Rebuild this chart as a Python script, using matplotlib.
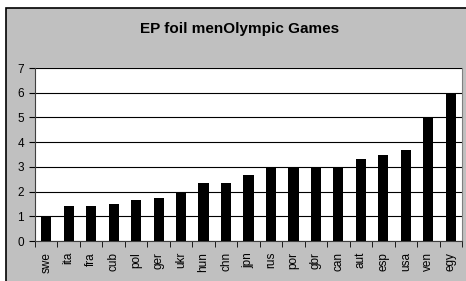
import matplotlib.pyplot as plt
import numpy as np
from matplotlib.patches import Rectangle

# countries and their values
countries = ['swe', 'ita', 'fra', 'cub', 'pol', 'ger', 'ukr', 'hun', 'chn', 'jpn',
             'rus', 'por', 'gbr', 'can', 'aut', 'esp', 'usa', 'ven', 'egy']
values = [1.0, 1.4, 1.4, 1.5, 1.67, 1.75, 2.0, 2.33, 2.33, 2.67,
          3.0, 3.0, 3.0, 3.0, 3.33, 3.5, 3.67, 5.0, 6.0]
y_ticks = [0, 1, 2, 3, 4, 5, 6, 7]

plt.rcParams['font.family'] = ['Liberation Sans', 'DejaVu Sans']

fig = plt.figure(figsize=(4.66, 2.81), dpi=100)
fig.patch.set_facecolor('white')

# gray chart area with black frame
frame = Rectangle((6 / 466, -0.1), 1.1, 0.1 + (281 - 8) / 281, transform=fig.transFigure,
                  facecolor='#c0c0c0', edgecolor='black', linewidth=1.2, zorder=-5)
fig.patches.append(frame)

ax = fig.add_axes([35 / 466, 40 / 281, 427 / 466, 173 / 281])
ax.set_facecolor('white')

x = np.arange(len(countries))
ax.bar(x, values, width=0.45, color='black', zorder=3)

ax.set_xlim(-0.5, len(countries) - 0.5)
ax.set_ylim(0, 7)
ax.set_yticks(y_ticks)
ax.yaxis.grid(True, color='black', linewidth=0.8)
ax.set_axisbelow(True)

ax.set_xticks(x)
ax.set_xticklabels(countries, rotation=90, fontsize=8.5)
ax.set_xticks(np.arange(-0.5, len(countries), 1), minor=True)
ax.tick_params(axis='x', which='major', length=0, pad=8)
ax.tick_params(axis='x', which='minor', length=4, direction='out', color='black')
ax.tick_params(axis='y', length=4, direction='out', labelsize=8.5, pad=4)

ax.spines['top'].set_visible(False)
ax.spines['right'].set_color('#808080')
ax.spines['left'].set_color('#404040')
ax.spines['bottom'].set_color('#404040')

fig.text(240 / 466, (281 - 29) / 281, 'EP foil menOlympic Games', ha='center', va='center',
         fontsize=11, fontweight='bold')

fig.savefig('out.png', dpi=100)
